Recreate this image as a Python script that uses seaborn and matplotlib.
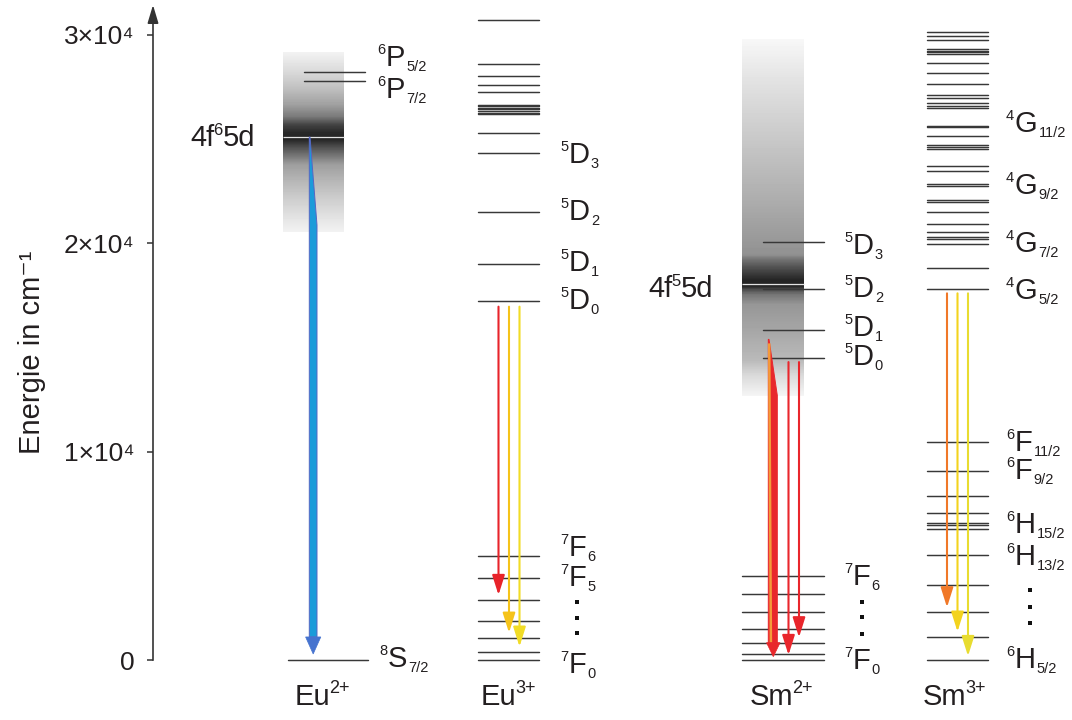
import numpy as np
import pandas as pd
import matplotlib
matplotlib.use("Agg")
import matplotlib.pyplot as plt
import seaborn as sns

# ------------------------------------------------------------------
# data: term energies in cm^-1
# ------------------------------------------------------------------
ion_names = ["Eu", "Eu", "Sm", "Sm"]
ion_charges = ["2+", "3+", "2+", "3+"]

ytick_values = [0, 10000, 20000, 30000]
ytick_labels = ["0", "1×10⁴", "2×10⁴", "3×10⁴"]

# Eu2+
eu2_ground = [0]
eu2_6P = [27790, 28230]
eu2_5d_peak = 25100
eu2_band_E = [20540, 21120, 22080, 22940, 23760, 24580, 24960, 25200, 25340,
              25680, 26060, 26640, 27460, 28270, 29140]
eu2_band_gray = [0.95, 0.90, 0.81, 0.72, 0.62, 0.32, 0.15, 0.15, 0.17,
                 0.27, 0.48, 0.63, 0.76, 0.86, 0.95]
eu2_arrow = (25100, 290)

# Eu3+
eu3_levels = [0, 390, 1056, 1888, 2880, 3920, 4992,
              17246, 19008, 21490, 24350, 25282,
              26208, 26270, 26352, 26434, 26510, 26592, 26656,
              27278, 27600, 28046, 28622, 30706]
eu3_arrow_start = 16960
eu3_arrow_end = [3120, 1310, 640]
eu3_arrow_colors = ["#e8232a", "#f5c31a", "#f1dc26"]

# Sm2+
sm2_levels_7F = [0, 288, 832, 1504, 2304, 3152, 4048]
sm2_levels_5D = [14512, 15856, 17808, 20080]
sm2_5d_peak = 18050
sm2_band_E = [12670, 13680, 14350, 15840, 17040, 17520, 17760, 17904, 18192,
              18480, 18860, 19200, 19440, 20640, 22080, 24000, 25920, 27840, 29760]
sm2_band_gray = [0.96, 0.85, 0.73, 0.65, 0.59, 0.46, 0.3, 0.16, 0.14,
                 0.22, 0.33, 0.45, 0.57, 0.62, 0.68, 0.75, 0.82, 0.89, 0.97]
sm2_arrow_thick = (15390, 160)
sm2_arrow_start = [14300, 14300]
sm2_arrow_end = [240, 1090]
sm2_arrow_color = "#e9262c"

# Sm3+
sm3_levels = [0, 1088, 2288, 3616, 5056, 6304, 6496, 6560, 7040, 7888, 9072, 10464,
              17822, 18830, 19968, 20194, 20318, 20544, 20942, 21504, 21998, 22080,
              22752, 22834, 23486, 23726, 24514, 24638, 24734, 25166, 25570, 25632,
              26510, 26606, 26722, 26990, 27120, 27648, 28190, 28670, 29074, 29170,
              29246, 29314, 29760, 29966, 30130]
sm3_arrow_start = 17600
sm3_arrow_end = [2530, 1360, 190]
sm3_arrow_colors = ["#f07828", "#f3d31e", "#e8dc30"]

# ------------------------------------------------------------------
# layout (pixel positions on the 1072 x 720 canvas)
# ------------------------------------------------------------------
W, H = 1072, 720
AX_LEFT = 153
Y0_PX, PX_PER_E = 660, 1 / 48.0


def Ey(py):
    """energy value that sits at canvas row py (layout helper)."""
    return (Y0_PX - py) / PX_PER_E


EU2_GND_X = (288, 368)
EU2_P_X = (304, 365)
EU2_BOX_X = (283, 344)
EU3_X = (478, 539)
SM2_7F_X = (742, 824)
SM2_5D_X = (763, 824)
SM2_BOX_X = (742, 804)
SM3_X = (927, 988)

TXT = "#231f20"
LEVEL_C = "#383838"
FS = 21
SFS = 10.5

# ------------------------------------------------------------------
sns.set_theme(style="white")
plt.rcParams["font.family"] = ["Liberation Sans", "DejaVu Sans"]
plt.rcParams["text.color"] = TXT

fig = plt.figure(figsize=(W / 100, H / 100), dpi=100)
ax = fig.add_axes([AX_LEFT / W, 0, (W - AX_LEFT) / W, 1])
ax.set_facecolor("white")


def band(xr, E, g):
    grid = np.linspace(E[0], E[-1], 600)
    col = np.interp(grid, E, g)[:, None]
    ax.imshow(col, extent=(xr[0], xr[1], E[0], E[-1]), origin="lower",
              cmap="gray", vmin=0, vmax=1, aspect="auto",
              interpolation="nearest", zorder=1)


band(EU2_BOX_X, eu2_band_E, eu2_band_gray)
band(SM2_BOX_X, sm2_band_E, sm2_band_gray)
ax.hlines([eu2_5d_peak], *EU2_BOX_X, color="#e2e2e2", lw=0.9, zorder=2)
ax.hlines([sm2_5d_peak], *SM2_BOX_X, color="#e2e2e2", lw=0.9, zorder=2)

# energy levels via seaborn
segs = ([(EU2_GND_X, e) for e in eu2_ground] + [(EU2_P_X, e) for e in eu2_6P]
        + [(EU3_X, e) for e in eu3_levels]
        + [(SM2_7F_X, e) for e in sm2_levels_7F] + [(SM2_5D_X, e) for e in sm2_levels_5D]
        + [(SM3_X, e) for e in sm3_levels])
rows = []
for uid, (xr, e) in enumerate(segs):
    rows.append({"uid": uid, "x": xr[0], "E": e})
    rows.append({"uid": uid, "x": xr[1], "E": e})
df = pd.DataFrame(rows)
sns.lineplot(data=df, x="x", y="E", units="uid", estimator=None, color=LEVEL_C,
             lw=1.05, ax=ax, legend=False, zorder=3)


# thin arrows
def arrow(x, e0, e1, c):
    ax.annotate("", xy=(x, e1), xytext=(x, e0), zorder=5,
                arrowprops=dict(arrowstyle="-|>,head_length=1.2,head_width=0.38",
                                mutation_scale=10, lw=1.5, color=c,
                                shrinkA=0, shrinkB=0))


for x, e1, c in zip([498.5, 509, 519.5], eu3_arrow_end, eu3_arrow_colors):
    arrow(x, eu3_arrow_start, e1, c)
for x, e0, e1 in zip([788.5, 799], sm2_arrow_start, sm2_arrow_end):
    arrow(x, e0, e1, sm2_arrow_color)
for x, e1, c in zip([947, 957.5, 968], sm3_arrow_end, sm3_arrow_colors):
    arrow(x, sm3_arrow_start, e1, c)


# tapered broad-band arrows
def taper_arrow(xl, xr, xtip, head_half, e0, e1, taper_px, head_px, fc, ec, hc, stripe=None):
    e_t = e0 - taper_px / PX_PER_E
    e_h = e1 + head_px / PX_PER_E
    body = [(xl, e0), (xl + 0.7, e0), (xr, e_t), (xr, e_h), (xl, e_h)]
    ax.fill(*zip(*body), facecolor=fc, edgecolor=ec, lw=0.7, zorder=5)
    if stripe is not None:
        ax.plot([xl + 0.9, xl + 2.6], [e0 - 4 / PX_PER_E, e_h], color=stripe,
                lw=1.8, zorder=6, solid_capstyle="butt")
    head = [(xtip - head_half, e_h), (xtip + head_half, e_h), (xtip, e1)]
    ax.fill(*zip(*head), facecolor=hc, edgecolor=hc, lw=0.5, zorder=6)


taper_arrow(309.3, 317.0, 313.2, 7.6, eu2_arrow[0], eu2_arrow[1], 88, 17,
            "#1b9bd9", "#5666c4", "#4673cf")
taper_arrow(768.3, 777.3, 773.3, 6.8, sm2_arrow_thick[0], sm2_arrow_thick[1], 56, 14,
            "#e8282c", "#e8282c", "#e8282c", stripe="#f49a3a")


# term labels
def term(x_px, yc_px, sup, main, sub=None, size=FS, ssize=SFS):
    cap = 0.716 * size
    t = ax.annotate(main, xy=(x_px, Ey(yc_px)), xytext=(0, -cap / 2),
                    textcoords="offset points", ha="left", va="baseline",
                    fontsize=size, color=TXT, annotation_clip=False, zorder=7)
    if sup:
        ax.annotate(sup, xy=(0, 1), xycoords=t, xytext=(-0.6, 1.2),
                    textcoords="offset points", ha="right", va="top",
                    fontsize=ssize, color=TXT)
    if sub:
        ax.annotate(sub, xy=(1, 0), xycoords=t, xytext=(0.6, -1.4),
                    textcoords="offset points", ha="left", va="bottom",
                    fontsize=ssize, color=TXT)
    return t


labels = [
    (386, 56, "6", "P", "5/2"), (386, 88, "6", "P", "7/2"), (388, 657, "8", "S", "7/2"),
    (569, 153, "5", "D", "3"), (569, 210, "5", "D", "2"), (569, 261, "5", "D", "1"),
    (569, 299, "5", "D", "0"), (569, 546, "7", "F", "6"), (569, 576, "7", "F", "5"),
    (569, 663, "7", "F", "0"),
    (853, 244, "5", "D", "3"), (853, 287, "5", "D", "2"), (853, 326, "5", "D", "1"),
    (853, 355, "5", "D", "0"), (853, 575, "7", "F", "6"), (853, 659, "7", "F", "0"),
    (1015, 122, "4", "G", "11/2"), (1015, 184, "4", "G", "9/2"), (1015, 242, "4", "G", "7/2"),
    (1015, 289, "4", "G", "5/2"), (1015, 441, "6", "F", "11/2"), (1015, 469, "6", "F", "9/2"),
    (1015, 523, "6", "H", "15/2"), (1015, 555, "6", "H", "13/2"), (1015, 658, "6", "H", "5/2"),
]
for lab in labels:
    term(*lab)

# vertical dots
for x, ys in [(577, [601.7, 617.7, 633.3]), (862, [601.7, 617.3, 634.3]),
              (1030, [590, 606.7, 623.3])]:
    ax.scatter([x] * 3, [Ey(y) for y in ys], marker="s", s=4.8, color="#111111",
               linewidths=0, zorder=7)


# 4f^n 5d labels
def config(x_px, yc_px, n):
    cap = 0.716 * FS
    t1 = ax.annotate("4f", xy=(x_px, Ey(yc_px)), xytext=(0, -cap / 2),
                     textcoords="offset points", ha="left", va="baseline",
                     fontsize=FS, color=TXT, zorder=7)
    ax.annotate(n, xy=(1, 1), xycoords=t1, xytext=(-0.8, 1.0),
                textcoords="offset points", ha="left", va="top", fontsize=12, color=TXT)
    ax.annotate("5d", xy=(1, 0), xycoords=t1, xytext=(6.2, 0),
                textcoords="offset points", ha="left", va="bottom", fontsize=FS, color=TXT)


config(190, 136, "6")
config(648, 287, "5")

# ion labels at the bottom
for x, name, ch in zip([295, 481, 750, 923], ion_names, ion_charges):
    cap = 0.716 * FS
    t = ax.annotate(name, xy=(x, Ey(695)), xytext=(0, -cap / 2),
                    textcoords="offset points", ha="left", va="baseline",
                    fontsize=FS, color=TXT, annotation_clip=False)
    ax.annotate(ch, xy=(1, 1), xycoords=t, xytext=(-0.8, 2.2),
                textcoords="offset points", ha="left", va="top", fontsize=13, color=TXT)

# axis
ax.set_xlim(AX_LEFT, W)
ax.set_ylim(Ey(H), Ey(0))
sns.despine(ax=ax, top=True, right=True, bottom=True)
ax.spines["left"].set_bounds(0, Ey(18))
ax.spines["left"].set_color("#333333")
ax.spines["left"].set_linewidth(1.2)
ax.annotate("", xy=(AX_LEFT, Ey(5)), xytext=(AX_LEFT, Ey(22)), annotation_clip=False,
            arrowprops=dict(arrowstyle="-|>,head_length=1.1,head_width=0.33",
                            mutation_scale=10, lw=1.2, color="#333333",
                            shrinkA=0, shrinkB=0))
ax.set_xticks([])
ax.set_xlabel("")
ax.set_yticks(ytick_values)
ax.set_yticklabels(ytick_labels)
ax.tick_params(axis="y", direction="out", length=4.5, width=1.1, color="#333333",
               pad=9, labelsize=19, labelcolor=TXT, left=True)
ax.set_ylabel("Energie in cm⁻¹", fontsize=FS, color=TXT)
ax.yaxis.set_label_coords((46 - AX_LEFT) / (W - AX_LEFT), 1 - 352 / H)
ax.grid(False)

fig.savefig("out.png", dpi=100)
